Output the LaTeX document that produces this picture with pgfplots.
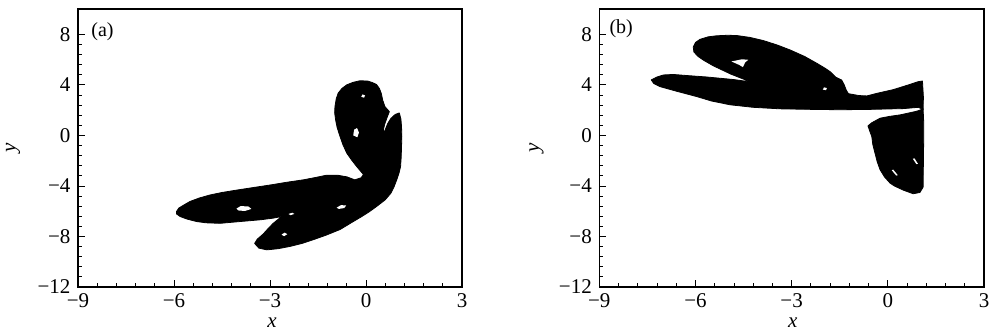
\documentclass[border=0pt]{standalone}
\usepackage{fontspec}
\setmainfont{Liberation Serif}
\usepackage{pgfplots}
\pgfplotsset{compat=1.18}
\pgfplotsset{
 panel/.style={
  scale only axis, width=384pt, height=278pt,
  xmin=-9, xmax=3, ymin=-12, ymax=10,
  xtick={-9,-6,-3,0,3}, xticklabels={−9,−6,−3,0,3},
  ytick={-12,-8,-4,0,4,8}, yticklabels={−12,−8,−4,0,4,8},
  minor x tick num=4, minor y tick num=4,
  xtick pos=bottom, ytick pos=left, tick align=inside,
  major tick length=7pt, minor tick length=4pt,
  axis line style={line width=1.3pt},
  every tick/.style={black, line width=0.8pt},
  tick label style={font=\fontsize{21}{24}\selectfont},
  xticklabel style={yshift=-3pt},
  yticklabel style={xshift=-4pt},
  label style={font=\fontsize{21}{24}\selectfont\itshape},
  xlabel={x}, ylabel={y},
  xlabel style={at={(axis description cs:0.505,-0.13)}, anchor=center},
  ylabel style={at={(axis description cs:-0.169,0.5)}, anchor=center},
  clip=true,
 },
 blob/.style={fill=black, draw=black, line width=0.8pt, line join=round},
 hole/.style={fill=white, draw=none},
}
\begin{document}
\begin{tikzpicture}[x=1pt,y=1pt]
\path[use as bounding box] (0,0) rectangle (996,333);
% ---------------- panel (a)
\begin{axis}[panel, at={(78pt,46pt)}, anchor=south west]
\addplot[blob] coordinates {
(-5.92,-6.02) (-5.85,-5.75) (-5.65,-5.45) (-5.50,-5.23) (-5.20,-4.95) (-4.88,-4.72)
(-4.50,-4.52) (-4.04,-4.33) (-3.50,-4.12) (-3.00,-3.93) (-2.50,-3.72) (-1.96,-3.52)
(-1.55,-3.32) (-1.23,-3.15) (-0.90,-3.15) (-0.60,-3.28) (-0.35,-3.52) (-0.15,-3.35)
(-0.08,-3.10) (-0.29,-2.47) (-0.45,-1.95) (-0.60,-1.41) (-0.72,-0.75) (-0.81,-0.10)
(-0.90,0.60) (-0.95,1.23) (-0.98,1.80) (-0.97,2.28) (-0.93,2.90) (-0.87,3.34)
(-0.75,3.72) (-0.60,4.00) (-0.40,4.20) (-0.19,4.32) (0.05,4.30) (0.20,4.18)
(0.33,4.02) (0.42,3.70) (0.48,3.30) (0.52,2.80) (0.59,2.28) (0.73,1.88)
(0.65,1.36) (0.58,0.85) (0.54,0.40) (0.56,0.20) (0.68,0.95) (0.78,1.35)
(0.91,1.65) (1.04,1.78) (1.09,1.30) (1.11,0.70) (1.12,-0.10) (1.11,-0.89)
(1.10,-1.70) (1.08,-2.47) (1.03,-3.00) (0.96,-3.52) (0.88,-4.05) (0.78,-4.57)
(0.60,-5.10) (0.33,-5.63) (0.10,-6.05) (-0.15,-6.45) (-0.45,-6.90) (-0.81,-7.45)
(-1.25,-7.90) (-1.65,-8.26) (-2.00,-8.55) (-2.38,-8.79) (-2.75,-8.97) (-3.10,-9.06)
(-3.35,-8.92) (-3.48,-8.55) (-3.40,-8.22) (-3.21,-7.80) (-3.05,-7.35) (-2.90,-6.96)
(-2.70,-6.55) (-2.50,-6.25) (-2.27,-6.02) (-2.55,-6.38) (-2.90,-6.55) (-3.30,-6.68)
(-3.94,-6.82) (-4.56,-6.96) (-5.00,-6.92) (-5.29,-6.82) (-5.60,-6.62) (-5.81,-6.42)
(-5.92,-6.22)
} -- cycle;
\addplot[hole] coordinates {(-4.05,-5.80) (-3.92,-5.60) (-3.68,-5.62) (-3.58,-5.82) (-3.78,-5.98) (-3.98,-5.95)} -- cycle;
\addplot[hole] coordinates {(-0.92,-5.72) (-0.78,-5.52) (-0.62,-5.55) (-0.68,-5.75) (-0.85,-5.82)} -- cycle;
\addplot[hole] coordinates {(-2.64,-7.85) (-2.54,-7.70) (-2.46,-7.82) (-2.56,-7.98)} -- cycle;
\addplot[hole] coordinates {(-2.42,-6.22) (-2.30,-6.12) (-2.24,-6.22) (-2.36,-6.32)} -- cycle;
\addplot[hole] coordinates {(-0.40,0.00) (-0.37,0.45) (-0.28,0.58) (-0.22,0.22) (-0.27,-0.15)} -- cycle;
\addplot[hole] coordinates {(-0.15,3.05) (-0.11,3.24) (-0.03,3.16) (-0.06,2.98)} -- cycle;
\node[anchor=west, font=\fontsize{20}{24}\selectfont] at (axis cs:-8.69,8.18) {(a)};
\end{axis}
% ---------------- panel (b)
\begin{axis}[panel, at={(599.3pt,46pt)}, anchor=south west, width=384.7pt,
  ylabel style={at={(axis description cs:-0.163,0.5)}},
  xlabel style={at={(axis description cs:0.503,-0.13)}}]
\addplot[blob] coordinates {
(-6.07,7.00) (-6.00,7.35) (-5.86,7.60) (-5.60,7.80) (-5.34,7.88) (-5.00,7.92)
(-4.71,7.90) (-4.30,7.75) (-3.88,7.50) (-3.45,7.15) (-3.05,6.76) (-2.60,6.25)
(-2.22,5.71) (-1.95,5.30) (-1.80,5.04) (-1.62,4.60) (-1.44,4.38) (-1.36,4.00)
(-1.30,3.60) (-1.23,3.30) (-0.90,3.15) (-0.66,3.12) (-0.30,3.35) (0.17,3.62)
(0.55,3.92) (0.95,4.25) (1.08,4.30) (1.11,3.00) (1.10,2.05) (0.95,2.22)
(0.50,2.12) (-0.66,2.05) (-1.50,2.03) (-2.22,2.05) (-3.36,2.10) (-4.20,2.22)
(-4.92,2.42) (-5.50,2.72) (-5.96,3.07) (-6.60,3.50) (-7.11,3.86) (-7.30,4.10)
(-7.38,4.39) (-7.20,4.62) (-7.00,4.78) (-6.69,4.82) (-6.30,4.74) (-5.65,4.62)
(-4.82,4.42) (-4.30,4.24) (-4.45,4.40) (-4.90,4.85) (-5.44,5.50) (-5.75,5.95)
(-5.92,6.25) (-6.05,6.60)
} -- cycle;
\addplot[blob] coordinates {
(1.10,2.10) (1.12,1.00) (1.12,-0.10) (1.11,-2.00) (1.10,-4.10) (1.00,-4.52)
(0.79,-4.62) (0.48,-4.33) (0.20,-4.00) (0.07,-3.78) (-0.10,-3.30) (-0.24,-2.73)
(-0.33,-2.10) (-0.40,-1.41) (-0.47,-0.70) (-0.50,-0.10) (-0.58,0.45) (-0.62,0.75)
(-0.50,1.00) (-0.24,1.36) (0.05,1.50) (0.38,1.62) (0.85,1.88) (0.95,1.95)
} -- cycle;
\addplot[hole] coordinates {(-4.88,5.85) (-4.55,6.02) (-4.35,5.98) (-4.45,5.78) (-4.52,5.40) (-4.64,5.58)} -- cycle;
\addplot[hole] coordinates {(-2.03,3.62) (-1.99,3.80) (-1.90,3.74) (-1.93,3.58)} -- cycle;
\addplot[hole] coordinates {(0.12,-2.75) (0.17,-2.72) (0.31,-3.15) (0.26,-3.18)} -- cycle;
\addplot[hole] coordinates {(0.78,-1.85) (0.83,-1.82) (0.94,-2.25) (0.89,-2.28)} -- cycle;
\node[anchor=west, font=\fontsize{20}{24}\selectfont] at (axis cs:-8.79,8.42) {(b)};
\end{axis}
\end{tikzpicture}
\end{document}
